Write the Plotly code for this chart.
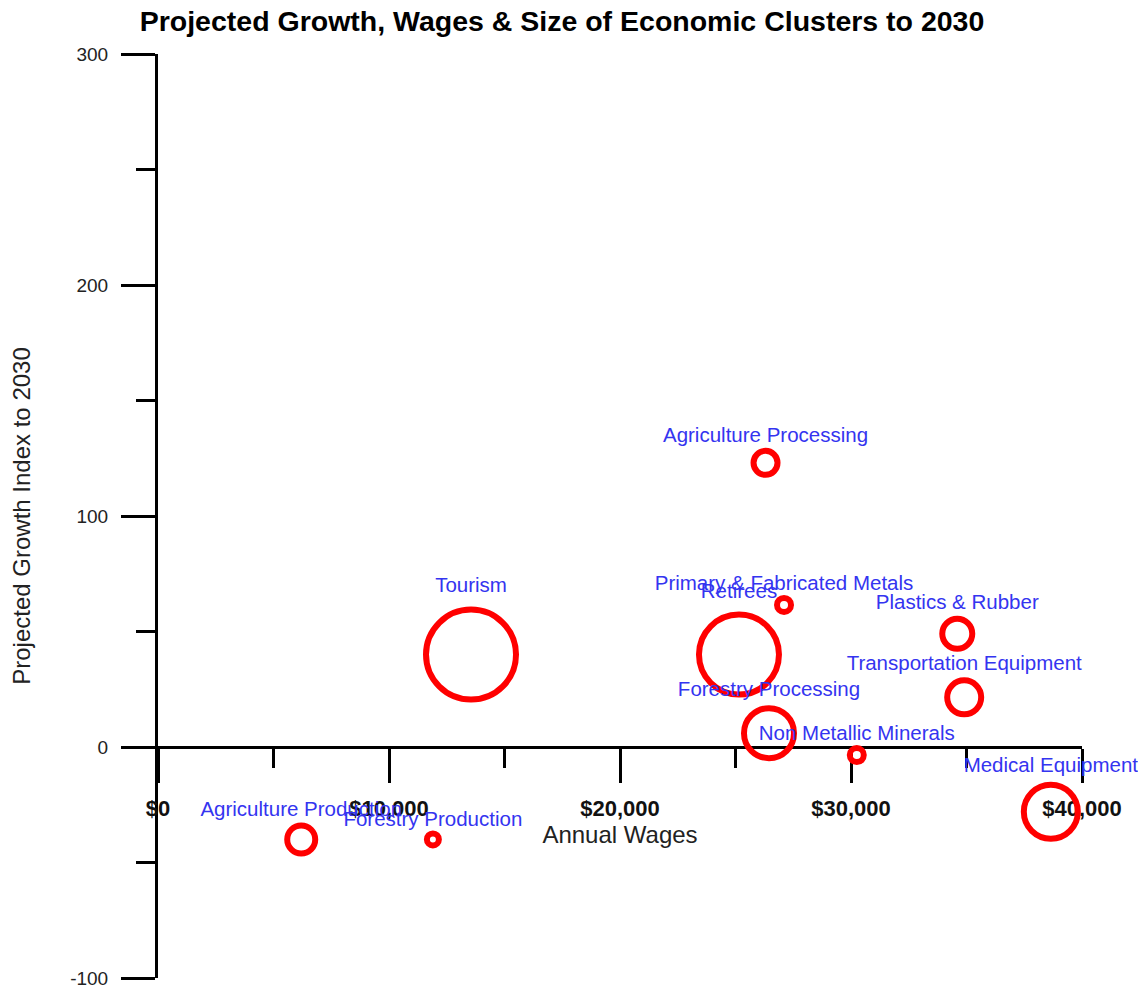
import plotly.graph_objects as go

clusters = ["Agriculture Processing", "Tourism", "Retirees", "Primary & Fabricated Metals",
            "Plastics & Rubber", "Transportation Equipment", "Forestry Processing",
            "Non Metallic Minerals", "Medical Equipment", "Agriculture Production",
            "Forestry Production"]
annual_wages = [26300, 13550, 25150, 27100, 34600, 34900, 26450, 30250, 38650, 6200, 11900]
growth_index = [123, 40, 40, 61.5, 49, 21.5, 6, -3.5, -28, -40, -40]
cluster_size = [24, 90, 80, 14, 30, 34, 50, 14, 54, 28, 12]

x_tick_values = [0, 10000, 20000, 30000, 40000]
x_tick_labels = ["$0", "$10,000", "$20,000", "$30,000", "$40,000"]
y_tick_values = [-100, 0, 100, 200, 300]
y_tick_labels = ["-100", "0", "100", "200", "300"]

FONT = "Arial, Liberation Sans, sans-serif"
W, H = 1138, 979  # page has an 8px body margin

fig = go.Figure()
fig.add_trace(go.Scatter(
    x=annual_wages, y=growth_index, text=clusters,
    mode="markers+text", textposition="top center",
    textfont=dict(family=FONT, size=20.5, color="#3434f0"),
    marker=dict(size=cluster_size, sizemode="diameter", color="rgba(0,0,0,0)",
                opacity=1, line=dict(color="#ff0000", width=6)),
    cliponaxis=False, hoverinfo="text", showlegend=False,
))

fig.update_layout(
    width=W, height=H,
    margin=dict(l=150, r=64, t=46, b=9),
    paper_bgcolor="white", plot_bgcolor="white",
    title=dict(text="<b>Projected Growth, Wages & Size of Economic Clusters to 2030</b>",
               x=554 / W, xanchor="center", y=1 - 13 / H, yanchor="middle",
               font=dict(family=FONT, size=28.5, color="black")),
    xaxis=dict(
        range=[0, 40000], anchor="free", position=0.25, automargin=False,
        showgrid=False, zeroline=False,
        showline=True, linecolor="black", linewidth=3,
        ticks="outside", ticklen=34, tickwidth=3, tickcolor="black",
        tickvals=x_tick_values, ticktext=["<b>" + t + "</b>" for t in x_tick_labels],
        tickfont=dict(family=FONT, size=22, color="#111"),
        ticklabelstandoff=7, ticklabeloverflow="allow",
        minor=dict(dtick=5000, tick0=0, ticks="outside", ticklen=19, tickwidth=3,
                   tickcolor="black", showgrid=False),
        layer="below traces",
        title=dict(text="Annual Wages", standoff=4,
                   font=dict(family=FONT, size=24, color="#222")),
    ),
    yaxis=dict(
        range=[-100, 300], automargin=False, showgrid=False, zeroline=False,
        showline=True, linecolor="black", linewidth=3,
        ticks="outside", ticklen=34, tickwidth=3, tickcolor="black",
        tickvals=y_tick_values, ticktext=y_tick_labels,
        tickfont=dict(family=FONT, size=19, color="#222"),
        ticklabelstandoff=9, ticklabeloverflow="allow",
        minor=dict(dtick=50, tick0=0, ticks="outside", ticklen=19, tickwidth=3,
                   tickcolor="black", showgrid=False),
        layer="below traces",
        title=dict(text="Projected Growth Index to 2030", standoff=37,
                   font=dict(family=FONT, size=24, color="#222")),
    ),
)

fig.write_html("out.html")
